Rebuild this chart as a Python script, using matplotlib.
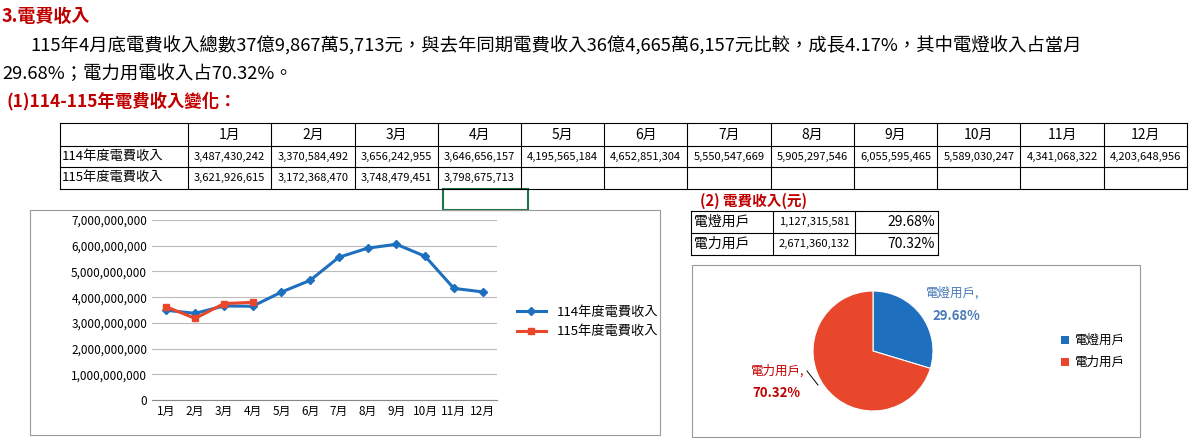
import matplotlib
matplotlib.use("Agg")
import matplotlib.pyplot as plt
from matplotlib.patches import Rectangle
from matplotlib.ticker import FuncFormatter

plt.rcParams['font.family'] = ['Noto Sans CJK TC', 'DejaVu Sans']

months = ['1月','2月','3月','4月','5月','6月','7月','8月','9月','10月','11月','12月']
rev114 = [3487430242, 3370584492, 3656242955, 3646656157, 4195565184, 4652851304,
          5550547669, 5905297546, 6055595465, 5589030247, 4341068322, 4203648956]
rev115 = [3621926615, 3172368470, 3748479451, 3798675713]
series_names = ['114年度電費收入', '115年度電費收入']
pie_labels = ['電燈用戶', '電力用戶']
pie_values = [1127315581, 2671360132]
pie_pct = ['29.68%', '70.32%']

W, H = 1190, 445
fig = plt.figure(figsize=(W/100, H/100), dpi=100)
BLUE = '#1f6fbf'
RED = '#e8472c'
DRED = '#c00000'

def T(x, y, s, **kw):
    fig.text(x/W, 1 - y/H, s, **kw)

def R(x0, y0, x1, y1, **kw):
    fig.add_artist(Rectangle((x0/W, 1-y1/H), (x1-x0)/W, (y1-y0)/H,
                             transform=fig.transFigure, **kw))

T(2, 16, '3.電費收入', color=DRED, fontsize=13, fontweight='bold', va='center')
T(30, 46, '115年4月底電費收入總數37億9,867萬5,713元，與去年同期電費收入36億4,665萬6,157元比較，成長4.17%，其中電燈收入占當月',
  fontsize=13.2, va='center')
T(2, 74, '29.68%；電力用電收入占70.32%。', fontsize=13.2, va='center')
T(6, 101, '(1)114-115年電費收入變化：', color=DRED, fontsize=12.5, fontweight='bold', va='center')

# main table
xs = [60, 188] + [188 + 83.25*(i+1) for i in range(12)]
ys = [123, 146, 167, 189]
for x in xs:
    fig.add_artist(plt.Line2D([x/W, x/W], [1-ys[0]/H, 1-ys[-1]/H], color='k', lw=0.8))
for y in ys:
    fig.add_artist(plt.Line2D([xs[0]/W, xs[-1]/W], [1-y/H, 1-y/H], color='k', lw=0.8))
for i, m in enumerate(months):
    T((xs[i+1]+xs[i+2])/2, 135, m, ha='center', va='center', fontsize=10)
T(62, 157, series_names[0], va='center', fontsize=9.5)
T(62, 178, series_names[1], va='center', fontsize=9.5)
for i, v in enumerate(rev114):
    T((xs[i+1]+xs[i+2])/2, 157, f'{v:,}', ha='center', va='center', fontsize=8)
for i, v in enumerate(rev115):
    T((xs[i+1]+xs[i+2])/2, 178, f'{v:,}', ha='center', va='center', fontsize=8)
R(443, 189, 528, 210, fill=False, edgecolor='#217346', lw=1.5)

# line chart frame
R(30, 210, 660, 435, fill=False, edgecolor='#999999', lw=0.8)
ax = fig.add_axes([152/W, 45/H, 345/W, 180/H])
x = list(range(12))
ax.plot(x, rev114, color=BLUE, marker='D', ms=4, lw=2.2, label=series_names[0])
ax.plot(range(4), rev115, color=RED, marker='s', ms=5, lw=2.2, label=series_names[1])
ax.set_ylim(0, 7e9)
ax.set_xlim(-0.5, 11.5)
ax.set_yticks([i*1e9 for i in range(8)])
ax.yaxis.set_major_formatter(FuncFormatter(lambda v, p: f'{int(v):,}'))
ax.set_xticks(x)
ax.set_xticklabels(months)
ax.tick_params(labelsize=8.5, length=0)
ax.grid(axis='y', color='#bbbbbb', lw=0.8)
ax.set_axisbelow(True)
for s in ['top', 'right', 'left']:
    ax.spines[s].set_visible(False)
ax.spines['bottom'].set_color('#888888')
fig.legend(*ax.get_legend_handles_labels(), loc='center left',
           bbox_to_anchor=(505/W, 1-322/H), frameon=False, fontsize=9.5, handlelength=2.2)

# small table
T(700, 201, '(2) 電費收入(元)', color=DRED, fontsize=10.5, fontweight='bold', va='center')
sx = [691, 773, 855, 938]
sy = [211, 233, 255]
for xx in sx:
    fig.add_artist(plt.Line2D([xx/W, xx/W], [1-sy[0]/H, 1-sy[-1]/H], color='k', lw=0.8))
for yy in sy:
    fig.add_artist(plt.Line2D([sx[0]/W, sx[-1]/W], [1-yy/H, 1-yy/H], color='k', lw=0.8))
for i in range(2):
    yc = (sy[i]+sy[i+1])/2
    T(694, yc, pie_labels[i], va='center', fontsize=10)
    T(814, yc, f'{pie_values[i]:,}', ha='center', va='center', fontsize=8)
    T(935, yc, pie_pct[i], ha='right', va='center', fontsize=10)

# pie
R(692, 265, 1140, 437, fill=False, edgecolor='#999999', lw=0.8)
pax = fig.add_axes([813/W, 1-411/H, 120/W, 120/H])
pax.pie(pie_values, colors=[BLUE, RED], startangle=90, counterclock=False,
        wedgeprops=dict(edgecolor='white', linewidth=0.8))
pax.set_xlim(-1, 1)
pax.set_ylim(-1, 1)
pax.set_aspect('equal')
T(925, 293, '電燈用戶,', color='#4a7ab5', fontsize=9, va='center')
T(932, 316, '29.68%', color='#4a7ab5', fontsize=9.5, fontweight='bold', va='center')
T(750, 371, '電力用戶,', color=DRED, fontsize=9, va='center')
T(752, 393, '70.32%', color=DRED, fontsize=9.5, fontweight='bold', va='center')
fig.add_artist(plt.Line2D([807/W, 818/W], [1-371/H, 1-385/H], color='k', lw=0.7))
for i, (lab, c) in enumerate(zip(pie_labels, [BLUE, RED])):
    yc = 340 + i*22
    R(1061, yc-4, 1069, yc+4, facecolor=c, edgecolor='none')
    T(1074, yc, lab, fontsize=9, va='center')

fig.savefig('out.png', dpi=100)
